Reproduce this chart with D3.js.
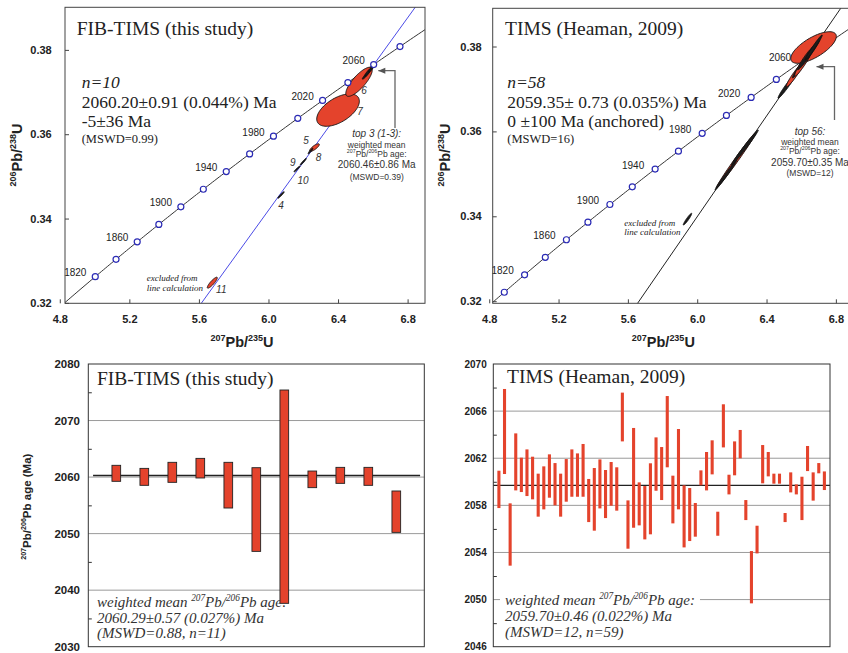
<!DOCTYPE html>
<html>
<head>
<meta charset="utf-8">
<script src="https://cdn.jsdelivr.net/npm/d3@7"></script>
<style>
  body { margin: 0; background: #fff; }
</style>
</head>
<body>
<div id="chart"></div>
<script>
// decay constants, 1/Ma
const LAMBDA238 = 1.55125e-4;
const LAMBDA235 = 9.8485e-4;

// concordia age marks (Ma)
const fibMarkerAges = [1820, 1840, 1860, 1880, 1900, 1920, 1940, 1960, 1980, 2000, 2020, 2040, 2060, 2080];
const heamanMarkerAges = [1800, 1820, 1840, 1860, 1880, 1900, 1920, 1940, 1960, 1980, 2000, 2020, 2040, 2060, 2080];
const labelledAges = [1820, 1860, 1900, 1940, 1980, 2020, 2060];

// discordia: FIB-TIMS from its intercepts, Heaman as drawn
const fibIntercepts = [-5, 2060.20];
const heamanDiscordia = [[5.666, 0.3201], [6.828, 0.3890]];

// error ellipses: 207Pb/235U, 206Pb/238U, 2s errors, error correlation
const fibEllipses = [
  {id: '7', x: 6.400, y: 0.36572, sx: 0.1225, sy: 0.00384, rho: 0.55},
  {id: '6', x: 6.5206, y: 0.37243, sx: 0.076, sy: 0.00345, rho: 0.80},
  {id: '2', x: 6.5609, y: 0.37401, sx: 0.021, sy: 0.00095, rho: 0.93},
  {id: '1', x: 6.5781, y: 0.37496, sx: 0.024, sy: 0.0011, rho: 0.93},
  {id: '3', x: 6.5925, y: 0.37556, sx: 0.016, sy: 0.00075, rho: 0.93},
  {id: '5', x: 6.2647, y: 0.35684, sx: 0.0276, sy: 0.0009, rho: 0.80},
  {id: '8', x: 6.2417, y: 0.35601, sx: 0.014, sy: 0.00065, rho: 0.92},
  {id: '9', x: 6.2003, y: 0.35348, sx: 0.0173, sy: 0.00079, rho: 0.95},
  {id: '10', x: 6.1641, y: 0.35175, sx: 0.0173, sy: 0.00068, rho: 0.95},
  {id: '4', x: 6.0721, y: 0.34559, sx: 0.0184, sy: 0.00078, rho: 0.95},
  {id: '11', x: 5.6770, y: 0.32479, sx: 0.0288, sy: 0.0013, rho: 0.88}
];
const fibDarkIds = ['1', '2', '3', '4', '8', '9', '10'];
const fibLabelIds = ['4', '5', '6', '7', '8', '9', '10', '11'];

const heamanEllipses = [
  {id: 'a', x: 6.6711, y: 0.37977, sx: 0.1316, sy: 0.00372, rho: 0.70},
  {id: 'b', x: 6.2256, y: 0.35327, sx: 0.1154, sy: 0.0066, rho: 0.993},
  {id: 'c', x: 6.1659, y: 0.34973, sx: 0.0626, sy: 0.00353, rho: 0.99},
  {id: 'd', x: 6.2752, y: 0.35621, sx: 0.0770, sy: 0.00412, rho: 0.99},
  {id: 'e', x: 6.519, y: 0.37075, sx: 0.0528, sy: 0.00295, rho: 0.975},
  {id: 'f', x: 6.562, y: 0.37329, sx: 0.0479, sy: 0.00276, rho: 0.95},
  {id: 'g', x: 6.607, y: 0.37589, sx: 0.0577, sy: 0.0033, rho: 0.975},
  {id: 'h', x: 6.6148, y: 0.37636, sx: 0.052, sy: 0.0033, rho: 0.95},
  {id: 'i', x: 6.6426, y: 0.37801, sx: 0.0635, sy: 0.00353, rho: 0.98},
  {id: 'j', x: 6.6723, y: 0.37977, sx: 0.049, sy: 0.00295, rho: 0.98},
  {id: 'x', x: 5.9441, y: 0.33932, sx: 0.0242, sy: 0.00138, rho: 0.95}
];
const heamanDarkIds = ['c', 'd', 'e', 'g', 'i', 'j', 'x'];

// 207Pb/206Pb ages, error bar ends (Ma)
const fibLow = [2059.25, 2058.54, 2059.07, 2059.84, 2054.53, 2046.86, 2037.67, 2058.13, 2058.89, 2058.54, 2050.22];
const fibHigh = [2062.08, 2061.54, 2062.61, 2063.31, 2062.61, 2061.66, 2075.40, 2061.07, 2061.72, 2061.72, 2057.54];
const fibMean = 2060.29;

const heamanLow = [2057.77, 2060.66, 2052.88, 2059.27, 2059.13, 2058.79, 2058.51, 2057.04, 2057.66, 2058.65,
  2058.0, 2057.04, 2058.31, 2058.73, 2058.73, 2058.73, 2056.58, 2055.85, 2057.74, 2056.92,
  2057.97, 2057.55, 2063.43, 2054.32, 2056.1, 2056.3, 2055.11, 2055.54, 2059.24, 2058.45,
  2061.23, 2056.47, 2057.66, 2054.43, 2054.97, 2055.34, 2059.7, 2059.27, 2060.63, 2055.42,
  2062.92, 2058.93, 2060.55, 2061.99, 2056.75, 2049.68, 2053.92, 2059.87, 2060.46, 2059.84,
  2059.84, 2056.58, 2059.1, 2058.93, 2056.75, 2060.91, 2058.4, 2060.72, 2059.3];
const heamanHigh = [2060.94, 2067.88, 2058.17, 2064.11, 2062.05, 2062.75, 2062.13, 2060.69, 2061.31, 2062.33,
  2061.59, 2060.69, 2061.93, 2062.75, 2062.41, 2063.21, 2060.24, 2061.17, 2061.9, 2061.0,
  2061.68, 2061.23, 2067.57, 2058.42, 2064.57, 2059.95, 2059.64, 2061.57, 2063.77, 2062.95,
  2067.28, 2060.52, 2064.48, 2059.7, 2059.47, 2058.2, 2060.97, 2062.53, 2063.52, 2057.46,
  2066.58, 2060.6, 2063.43, 2064.4, 2058.45, 2054.12, 2056.27, 2063.12, 2062.53, 2060.69,
  2060.69, 2057.35, 2060.8, 2059.78, 2060.43, 2063.04, 2060.8, 2061.59, 2060.88];
const heamanMean = 2059.70;

const RED = '#e4432c';
const DARK = '#1c1c1c';
const SERIF = '"Liberation Serif", "Times New Roman", serif';
const SANS = '"Liberation Sans", Arial, sans-serif';

const svg = d3.select('#chart').append('svg')
    .attr('width', 848)
    .attr('height', 653);

function concordia(t) {
    return [Math.expm1(LAMBDA235 * t), Math.expm1(LAMBDA238 * t)];
}

// text with '^' marked superscript parts
function richText(g, x, y, parts, o) {
    const s = o.size;
    const t = g.append('text')
        .attr('x', x).attr('y', y)
        .attr('font-size', s)
        .attr('font-family', o.family || SANS)
        .attr('font-style', o.italic ? 'italic' : null)
        .attr('font-weight', o.bold ? 'bold' : null)
        .attr('text-anchor', o.anchor || 'start')
        .attr('fill', o.fill || '#222');
    if (o.rotate) t.attr('transform', `rotate(${o.rotate},${x},${y})`);
    let raised = false;
    parts.forEach(p => {
        const sup = p.startsWith('^');
        const ts = t.append('tspan').text(sup ? p.slice(1) : p);
        if (sup) {
            ts.attr('font-size', s * 0.62);
            if (!raised) ts.attr('dy', -s * 0.42);
            raised = true;
        } else {
            if (raised) ts.attr('dy', s * 0.42);
            raised = false;
        }
    });
    return t;
}

function ellipsePath(d, x, y) {
    const c = Math.sqrt(1 - d.rho * d.rho);
    const pts = d3.range(0, 360, 4).map(a => {
        const t = a * Math.PI / 180;
        return [x(d.x + d.sx * Math.cos(t)), y(d.y + d.sy * (d.rho * Math.cos(t) + c * Math.sin(t)))];
    });
    return d3.line().curve(d3.curveLinearClosed)(pts);
}

function drawConcordiaPanel(cfg) {
    const x = d3.scaleLinear().domain(cfg.xDomain).range([cfg.left, cfg.right]);
    const y = d3.scaleLinear().domain(cfg.yDomain).range([cfg.bottom, cfg.top]);
    const g = svg.append('g');

    g.append('clipPath').attr('id', 'clip-' + cfg.id)
      .append('rect')
        .attr('x', cfg.left).attr('y', cfg.top)
        .attr('width', cfg.right - cfg.left).attr('height', cfg.bottom - cfg.top);
    const plot = g.append('g').attr('clip-path', `url(#clip-${cfg.id})`);

    const line = d3.line().x(d => x(d[0])).y(d => y(d[1]));

    // concordia curve
    plot.append('path')
        .datum(d3.range(1780, 2141, 2).map(concordia))
        .attr('d', line)
        .attr('fill', 'none')
        .attr('stroke', '#333')
        .attr('stroke-width', 1);

    // discordia, extended past the frame
    const p0 = cfg.discordia[0], p1 = cfg.discordia[1];
    const b = (p1[1] - p0[1]) / (p1[0] - p0[0]);
    const ends = [0.30, 0.40].map(v => [p0[0] + (v - p0[1]) / b, v]);
    plot.append('path')
        .datum(ends)
        .attr('d', line)
        .attr('stroke', cfg.discordiaColor)
        .attr('stroke-width', 1);

    const markers = () => plot.selectAll('.marker')
        .data(cfg.markerAges.map(concordia))
        .enter().append('circle')
        .attr('class', 'marker')
        .attr('cx', d => x(d[0]))
        .attr('cy', d => y(d[1]))
        .attr('r', 3)
        .attr('fill', '#fff')
        .attr('stroke', '#2b2bb5')
        .attr('stroke-width', 1.2);

    if (!cfg.markersOnTop) markers();

    plot.selectAll('.ellipse')
        .data(cfg.ellipses)
        .enter().append('path')
        .attr('class', 'ellipse')
        .attr('d', d => ellipsePath(d, x, y))
        .attr('fill', d => cfg.darkIds.includes(d.id) ? DARK : RED)
        .attr('stroke', '#111')
        .attr('stroke-width', 0.9);

    if (cfg.markersOnTop) markers();

    // age labels on the concordia
    g.selectAll('.age')
        .data(labelledAges.filter(a => cfg.markerAges.includes(a)))
        .enter().append('text')
        .attr('x', d => x(concordia(d)[0]) - cfg.ageDx)
        .attr('y', d => y(concordia(d)[1]) - 4)
        .attr('dy', '0.35em')
        .attr('text-anchor', 'middle')
        .attr('font-family', SANS)
        .attr('font-size', 10)
        .attr('fill', '#222')
        .text(d => d);

    // frame
    g.append('rect')
        .attr('x', cfg.left).attr('y', cfg.top)
        .attr('width', cfg.right - cfg.left).attr('height', cfg.bottom - cfg.top)
        .attr('fill', 'none').attr('stroke', '#444').attr('stroke-width', 1);

    const xAxis = g.append('g')
        .attr('transform', `translate(0,${cfg.bottom})`)
        .call(d3.axisBottom(x).tickValues([4.8, 5.2, 5.6, 6.0, 6.4, 6.8])
            .tickFormat(d3.format('.1f')).tickSize(-4).tickPadding(11.5));
    const yAxis = g.append('g')
        .attr('transform', `translate(${cfg.left},0)`)
        .call(d3.axisLeft(y).tickValues([0.32, 0.34, 0.36, 0.38])
            .tickFormat(d3.format('.2f')).tickSize(-4).tickPadding(cfg.yPad));
    [xAxis, yAxis].forEach(a => {
        a.select('.domain').remove();
        a.selectAll('line').attr('stroke', '#444');
        a.selectAll('text').attr('font-family', SANS).attr('font-size', 11)
            .attr('font-weight', 'bold').attr('fill', '#222');
    });

    richText(g, (cfg.left + Math.min(cfg.right, 848)) / 2 + cfg.xTitleShift, 346.7,
        ['^207', 'Pb/', '^235', 'U'], {size: 14.5, bold: true, anchor: 'middle'});
    richText(g, cfg.left - 43, 155, ['^206', 'Pb/', '^238', 'U'],
        {size: 14.5, bold: true, anchor: 'middle', rotate: -90});

    return {x, y, g};
}

// ---- top left: FIB-TIMS concordia ----
const fib = drawConcordiaPanel({
    id: 'fib', left: 65, right: 425, top: 7.3, bottom: 303.3,
    xDomain: [4.83, 6.90], yDomain: [0.3199, 0.3901],
    discordia: fibIntercepts.map(concordia), discordiaColor: '#4b4be6',
    markerAges: fibMarkerAges, ellipses: fibEllipses, darkIds: fibDarkIds,
    markersOnTop: true, ageDx: 20, yPad: 13.3, xTitleShift: -3
});

const fibLabelOffset = {'4': [0, 11], '5': [-8.5, -7], '6': [5, 9], '7': [22, 1],
    '8': [8, 6], '9': [-10.5, 1], '10': [6, 11], '11': [9, 7]};
fib.g.selectAll('.elabel')
    .data(fibEllipses.filter(d => fibLabelIds.includes(d.id)))
    .enter().append('text')
    .attr('x', d => fib.x(d.x) + fibLabelOffset[d.id][0])
    .attr('y', d => fib.y(d.y) + fibLabelOffset[d.id][1])
    .attr('dy', '0.35em')
    .attr('text-anchor', 'middle')
    .attr('font-family', SANS).attr('font-style', 'italic').attr('font-size', 10)
    .attr('fill', '#333')
    .text(d => d.id);

function serifLine(g, x, y, text, size, italic) {
    g.append('text').attr('x', x).attr('y', y)
        .attr('font-family', SERIF).attr('font-size', size)
        .attr('font-style', italic ? 'italic' : null)
        .attr('fill', '#222').text(text);
}

serifLine(fib.g, 76.7, 35, 'FIB-TIMS (this study)', 19.5);
serifLine(fib.g, 81.7, 88.3, 'n=10', 17.5, true);
serifLine(fib.g, 81.7, 108.3, '2060.20\u00b10.91 (0.044%) Ma', 17.5);
serifLine(fib.g, 81.7, 127, '-5\u00b136 Ma', 17.5);
serifLine(fib.g, 81.7, 142.5, '(MSWD=0.99)', 12.5);
serifLine(fib.g, 146.7, 281, 'excluded from', 9, true);
serifLine(fib.g, 146.7, 290.7, 'line calculation', 9, true);

function noteBlock(g, cx, lines) {
    lines.forEach(l => richText(g, cx, l.y, l.parts,
        {size: l.size, italic: l.italic, anchor: 'middle', fill: '#333'}));
}

function arrow(g, pts) {
    g.append('path')
        .attr('d', d3.line()(pts))
        .attr('fill', 'none').attr('stroke', '#666').attr('stroke-width', 1.3);
    const tip = pts[pts.length - 1];
    g.append('path')
        .attr('d', `M${tip[0]},${tip[1]}L${tip[0] + 7},${tip[1] - 3}L${tip[0] + 7},${tip[1] + 3}Z`)
        .attr('fill', '#555');
}

noteBlock(fib.g, 376.7, [
    {y: 136.5, parts: ['top 3 (1-3):'], size: 10, italic: true},
    {y: 147.5, parts: ['weighted mean'], size: 8.5},
    {y: 157, parts: ['^207', 'Pb/', '^206', 'Pb age:'], size: 8.5},
    {y: 168, parts: ['2060.46\u00b10.86 Ma'], size: 10},
    {y: 179.5, parts: ['(MSWD=0.39)'], size: 8.5}
]);
arrow(fib.g, [[395, 128], [395, 70.7], [378.3, 70.7]]);

// ---- top right: Heaman TIMS concordia ----
const hea = drawConcordiaPanel({
    id: 'hea', left: 492.7, right: 853.2, top: 8.3, bottom: 303.3,
    xDomain: [4.82, 6.90], yDomain: [0.3195, 0.389],
    discordia: heamanDiscordia, discordiaColor: '#222',
    markerAges: heamanMarkerAges, ellipses: heamanEllipses, darkIds: heamanDarkIds,
    markersOnTop: false, ageDx: 22, yPad: 11, xTitleShift: -7
});

serifLine(hea.g, 505, 35, 'TIMS (Heaman, 2009)', 19.5);
serifLine(hea.g, 507.3, 88.3, 'n=58', 17.5, true);
serifLine(hea.g, 507.3, 107.5, '2059.35\u00b1 0.73 (0.035%) Ma', 17.5);
serifLine(hea.g, 507.3, 126.5, '0 \u00b1100 Ma (anchored)', 17.5);
serifLine(hea.g, 507.3, 142.5, '(MSWD=16)', 12.5);
serifLine(hea.g, 624.3, 225.7, 'excluded from', 9, true);
serifLine(hea.g, 624.3, 235, 'line calculation', 9, true);

noteBlock(hea.g, 810, [
    {y: 134.5, parts: ['top 56:'], size: 10, italic: true},
    {y: 144.5, parts: ['weighted mean'], size: 8.5},
    {y: 153.5, parts: ['^207', 'Pb/', '^206', 'Pb age:'], size: 8.5},
    {y: 166, parts: ['2059.70\u00b10.35 Ma'], size: 10},
    {y: 176, parts: ['(MSWD=12)'], size: 8.5}
]);
arrow(hea.g, [[834.5, 120], [834.5, 66.7], [816.5, 66.7]]);

// ---- bottom: 207Pb/206Pb age bars ----
function drawBarPanel(cfg) {
    const x = d3.scaleLinear().domain([0, cfg.low.length + 1]).range([cfg.left, cfg.right]);
    const y = d3.scaleLinear().domain(cfg.yDomain).range([cfg.bottom, cfg.top]);
    const g = svg.append('g');

    g.selectAll('.grid')
        .data(cfg.grid)
        .enter().append('line')
        .attr('x1', cfg.left).attr('x2', cfg.right)
        .attr('y1', d => y(d)).attr('y2', d => y(d))
        .attr('stroke', '#9a9a9a').attr('stroke-width', 1);

    const minor = g.append('g')
        .attr('transform', `translate(${cfg.left},0)`)
        .call(d3.axisLeft(y).tickValues(cfg.minor).tickSize(-3.5).tickFormat(''));
    minor.select('.domain').remove();
    minor.selectAll('line').attr('stroke', '#333');

    const major = g.append('g')
        .attr('transform', `translate(${cfg.left},0)`)
        .call(d3.axisLeft(y).tickValues(cfg.major).tickSize(0).tickPadding(cfg.pad)
            .tickFormat(d3.format('d')));
    major.select('.domain').remove();
    major.selectAll('text').attr('font-family', SANS).attr('font-size', cfg.tickFont)
        .attr('font-weight', 'bold').attr('fill', '#222');

    // mean text with white backing
    const note = g.append('g');
    cfg.noteLines.forEach((parts, i) => richText(note, cfg.noteX, cfg.noteY[i], parts,
        {size: 15, italic: true, family: SERIF, fill: '#333'}));
    const bb = note.node().getBBox();
    note.insert('rect', ':first-child')
        .attr('x', bb.x - 5).attr('y', bb.y + 1)
        .attr('width', bb.width + 10).attr('height', bb.height - 1)
        .attr('fill', '#fff');

    g.append('line')
        .attr('x1', x(cfg.meanSpan[0])).attr('x2', x(cfg.meanSpan[1]))
        .attr('y1', y(cfg.mean)).attr('y2', y(cfg.mean))
        .attr('stroke', '#222').attr('stroke-width', 1.4);

    const bw = (x(1) - x(0)) * cfg.barFrac;
    g.selectAll('.bar')
        .data(cfg.low.map((lo, i) => ({i: i + 1, lo, hi: cfg.high[i]})))
        .enter().append('rect')
        .attr('class', 'bar')
        .attr('x', d => x(d.i) - bw / 2)
        .attr('y', d => y(d.hi))
        .attr('width', bw)
        .attr('height', d => y(d.lo) - y(d.hi))
        .attr('fill', RED)
        .attr('stroke', cfg.barStroke)
        .attr('stroke-width', 0.9);

    serifLine(g, cfg.titleX, cfg.titleY, cfg.title, 19.5);

    g.append('rect')
        .attr('x', cfg.left).attr('y', cfg.top)
        .attr('width', cfg.right - cfg.left).attr('height', cfg.bottom - cfg.top)
        .attr('fill', 'none').attr('stroke', '#333').attr('stroke-width', 1);
    return g;
}

const fibBars = drawBarPanel({
    left: 88.3, right: 424.3, top: 364, bottom: 646.7,
    yDomain: [2030, 2080], low: fibLow, high: fibHigh, mean: fibMean, meanSpan: [0.17, 11.85],
    grid: [2070, 2060, 2050, 2040], major: [2030, 2040, 2050, 2060, 2070, 2080],
    minor: [2035, 2045, 2055, 2065, 2075], pad: 8.3, tickFont: 11.5,
    barFrac: 0.31, barStroke: '#222',
    title: 'FIB-TIMS (this study)', titleX: 97, titleY: 385,
    noteX: 97, noteY: [607.3, 622.7, 638.3],
    noteLines: [['weighted mean ', '^207', 'Pb/', '^206', 'Pb age:'],
        ['2060.29\u00b10.57 (0.027%) Ma'], ['(MSWD=0.88, n=11)']]
});
richText(fibBars, 31, 506.7, ['^207', 'Pb/', '^206', 'Pb age (Ma)'],
    {size: 11.5, bold: true, anchor: 'middle', rotate: -90});

drawBarPanel({
    left: 493.3, right: 830, top: 364, bottom: 646.7,
    yDomain: [2046, 2070], low: heamanLow, high: heamanHigh, mean: heamanMean, meanSpan: [0, 60],
    grid: [2066, 2062, 2058, 2054, 2050], major: [2046, 2050, 2054, 2058, 2062, 2066, 2070],
    minor: [2048, 2052, 2056, 2060, 2064, 2068], pad: 6.6, tickFont: 10,
    barFrac: 0.55, barStroke: 'none',
    title: 'TIMS (Heaman, 2009)', titleX: 507, titleY: 383.3,
    noteX: 505, noteY: [605, 620.7, 637.3],
    noteLines: [['weighted mean ', '^207', 'Pb/', '^206', 'Pb age:'],
        ['2059.70\u00b10.46 (0.022%) Ma'], ['(MSWD=12, n=59)']]
});
</script>
</body>
</html>
